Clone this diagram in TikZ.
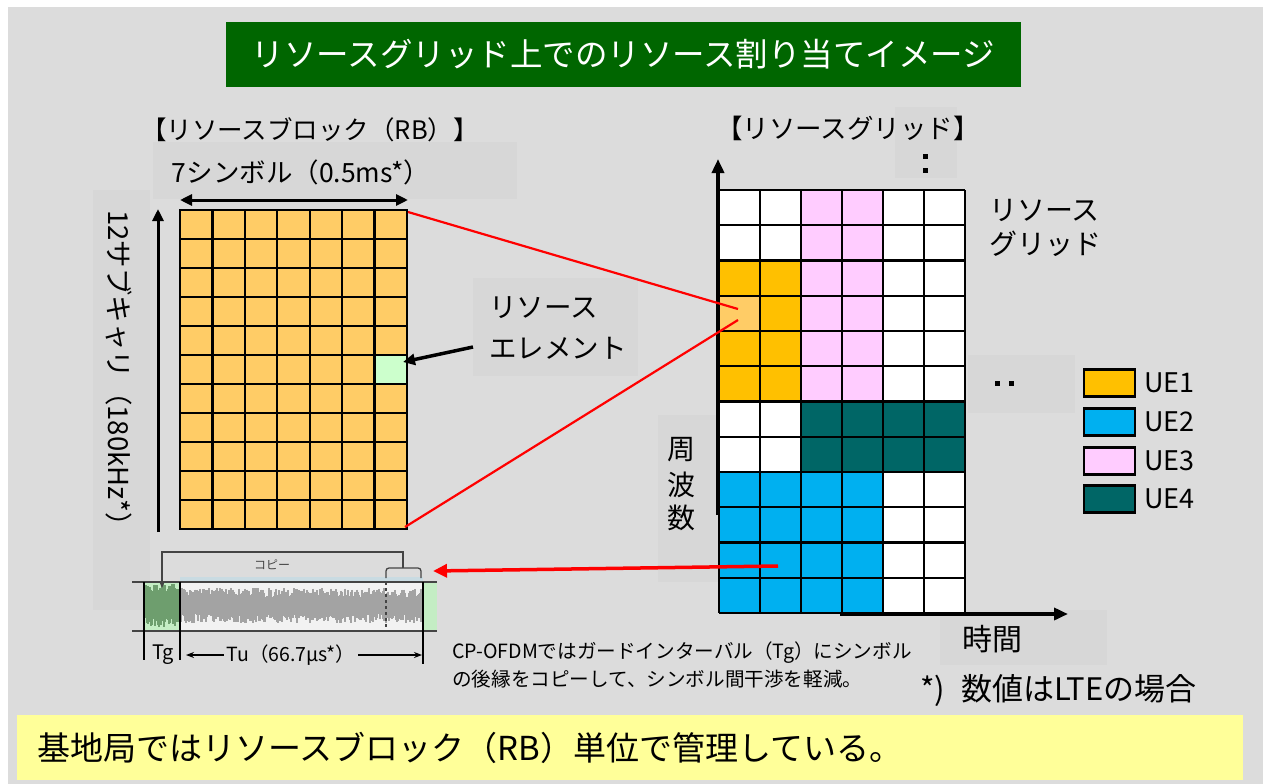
\documentclass[tikz,border=0pt]{standalone}
\usepackage{fontspec}
\setmainfont{Noto Sans CJK JP}
\usetikzlibrary{arrows.meta}
\definecolor{bg}{HTML}{DCDCDC}
\definecolor{faint}{HTML}{D7D7D7}
\definecolor{titlegreen}{HTML}{006600}
\definecolor{bandyellow}{HTML}{FFFF99}
\definecolor{rbcol}{HTML}{FFCC66}
\definecolor{recol}{HTML}{CCFFCC}
\definecolor{ueone}{HTML}{FFC000}
\definecolor{uetwo}{HTML}{00B0F0}
\definecolor{uethree}{HTML}{FFCCFF}
\definecolor{uefour}{HTML}{006666}
\definecolor{wavegray}{HTML}{A3A3A3}
\definecolor{wavegreen}{HTML}{6E9E6E}
\definecolor{tgfill}{HTML}{C4EDC4}
\definecolor{cpline}{HTML}{444444}
\newcommand{\fsz}[2]{\fontsize{#1}{#2}\selectfont}
\tikzset{
  txt/.style={inner sep=0pt, text=black},
  gl/.style={line width=2.2pt, black},
  redline/.style={red, line width=2.2pt},
  axisarrow/.style={line width=3.5pt, -{Triangle[length=14pt,width=12pt]}},
  dimarrow/.style={line width=3pt, {Triangle[length=12pt,width=11pt]}-{Triangle[length=12pt,width=11pt]}},
  legbox/.style={draw=black, line width=2.5pt, minimum width=51pt, minimum height=27pt, inner sep=0pt},
  copyline/.style={cpline, line width=1.3pt},
}
\begin{document}
\begin{tikzpicture}[x=1pt,y=-1pt]
\useasboundingbox (0,0) rectangle (1263,784);
\fill[white] (0,0) rectangle (1263,784);
\fill[bg] (8,7) rectangle (1263,784);
% faint text boxes
\fill[faint] (153,142) rectangle (517,199);
\fill[faint] (473,278) rectangle (638,376);
\fill[faint] (968,355) rectangle (1075,413);
\fill[faint] (658,415) rectangle (718,582);
\fill[faint] (940,610) rectangle (1107,665);
\fill[faint] (895,107) rectangle (957,178);
\fill[faint] (93,190) rectangle (150,610);

% title
\node[fill=titlegreen, text=white, minimum width=795pt, minimum height=65pt, inner sep=0pt, font=\fsz{32.5}{36}] (title) at (623.5,54.5) {リソースグリッド上でのリソース割り当てイメージ};

% bottom band
\fill[bandyellow] (17,715) rectangle (1243,780);
\node[txt, anchor=west, font=\fsz{33}{36}] (summary) at (37,748) {基地局ではリソースブロック（RB）単位で管理している。};

% RB headings
\node[txt, font=\fsz{25.5}{28}] (rbhead) at (310,130) {【リソースブロック（RB）】};
\node[txt, font=\fsz{26.5}{30}] (symlabel) at (301,172) {7シンボル（0.5ms*）};
\node[txt, rotate=-90, font=\fsz{27.5}{30}] (sclabel) at (119,375) {12サブキャリ（180kHz*）};

% RB grid
\fill[rbcol] (180,210) rectangle (407,529);
\fill[recol] ({180+6*227/7},355) rectangle (407,384);
\foreach \i in {1,...,6} \draw[gl] ({180+\i*227/7},210) -- ({180+\i*227/7},529);
\foreach \j in {1,...,10} \draw[gl] (180,{210+\j*29}) -- (407,{210+\j*29});
\draw[line width=2.6pt] (180,210) rectangle (407,529);
\coordinate (rbTR) at (408,212);
\coordinate (rbBR) at (405,527);

% RB dimension arrows
\coordinate (hL) at (180,200);
\coordinate (hR) at (408,200);
\draw[dimarrow] (hL) -- (hR);
\coordinate (vB) at (158,532);
\coordinate (vT) at (158,209);
\draw[line width=3pt, -{Triangle[length=12pt,width=11pt]}] (vB) -- (vT);

% resource element label
\node[txt, anchor=west, font=\fsz{27.5}{30}] (relab1) at (489,308) {リソース};
\node[txt, anchor=west, font=\fsz{27.5}{30}] (relab2) at (489,348) {エレメント};
\coordinate (reA) at (473,347);
\coordinate (reB) at (403,362);
\draw[line width=3.5pt, -{Triangle[length=12pt,width=11pt]}] (reA) -- (reB);

% resource grid
\node[txt, font=\fsz{26.5}{30}] (rghead) at (848,128) {【リソースグリッド】};
\fill[white] (719,190) rectangle (965,613);
\fill[uethree] (801,190) rectangle (883,401.5);
\fill[ueone] (719,260.5) rectangle (801,401.5);
\fill[rbcol] (719,295.75) rectangle (760,331);
\fill[uefour] (801,401.5) rectangle (965,472);
\fill[uetwo] (719,472) rectangle (883,613);
\foreach \i in {0,...,6} \draw[gl] ({719+\i*41},190) -- ({719+\i*41},613);
\foreach \j in {0,...,12} \draw[gl] (719,{190+\j*35.25}) -- (965,{190+\j*35.25});
\coordinate (yB) at (718,515);
\coordinate (yT) at (718,159);
\draw[axisarrow] (yB) -- (yT);
\coordinate (xL) at (840,614);
\coordinate (xR) at (1068,614);
\draw[axisarrow] (xL) -- (xR);

\node[txt, anchor=west, font=\fsz{28}{30}] (rglab1) at (989,210) {リソース};
\node[txt, anchor=west, font=\fsz{28}{30}] (rglab2) at (989,244) {グリッド};
\fill (922.5,153.5) rectangle +(5,5);
\fill (922.5,167.5) rectangle +(5,5);
\fill (994.5,380.5) rectangle +(5,5);
\fill (1008.5,380.5) rectangle +(5,5);

\node[txt, font=\fsz{28}{30}] (fq1) at (681,450) {周};
\node[txt, font=\fsz{28}{30}] (fq2) at (681,485) {波};
\node[txt, font=\fsz{28}{30}] (fq3) at (681,518) {数};
\node[txt, font=\fsz{30}{32}] (timelab) at (992,639) {時間};

% legend
\node[legbox, fill=ueone] (lg1) at (1109.5,383) {};
\node[legbox, fill=uetwo] (lg2) at (1109.5,422) {};
\node[legbox, fill=uethree] (lg3) at (1109.5,461) {};
\node[legbox, fill=uefour] (lg4) at (1109.5,499) {};
\node[txt, anchor=west, font=\fsz{27}{30}] (lt1) at (1144,383) {UE1};
\node[txt, anchor=west, font=\fsz{27}{30}] (lt2) at (1144,422) {UE2};
\node[txt, anchor=west, font=\fsz{27}{30}] (lt3) at (1144,461) {UE3};
\node[txt, anchor=west, font=\fsz{27}{30}] (lt4) at (1144,499) {UE4};

% red zoom lines
\coordinate (hl1) at (738,309);
\coordinate (hl2) at (738,320);
\draw[redline] (rbTR) -- (hl1);
\draw[redline] (rbBR) -- (hl2);

% waveform
\fill[white!95!black] (180,582) rectangle (423,631);
\fill[tgfill] (145,582) rectangle (180,631);
\fill[tgfill] (423,582) rectangle (437,631);
\fill[cyan!12!bg] (180,577) rectangle (423,582);
\pgfmathsetseed{12}
\foreach \x in {181,182,...,422} {\draw[wavegray, line width=1.1pt] (\x,{598-10*rnd}) -- (\x,{613+10*rnd});}
\foreach \x in {146,147,...,179} {\draw[wavegreen, line width=1.1pt] (\x,{592-8*rnd}) -- (\x,{618+9*rnd});}
\draw[cpline, line width=1.2pt] (132,582) -- (437,582);
\draw[cpline, line width=1.2pt] (132,631) -- (437,631);
\draw[cpline, line width=1.2pt, dashed] (386,582) -- (386,631);
\coordinate (tuR0) at (423,582);
\coordinate (tuR1) at (423,664);
\draw[black, line width=1.4pt] (tuR0) -- (tuR1);
\coordinate (tg0a) at (144,582);
\coordinate (tg0b) at (144,660);
\coordinate (tg1a) at (180,582);
\coordinate (tg1b) at (180,660);
\draw[black, line width=2.4pt] (tg0a) -- (tg0b);
\draw[black, line width=2.4pt] (tg1a) -- (tg1b);
% copy bracket
\draw[copyline, rounded corners=3pt] (386,578) -- (386,568) -- (421,568) -- (421,578);
\coordinate (cpS) at (403,568);
\coordinate (cpE) at (162,588);
\draw[copyline, -{Stealth[length=6pt,width=5pt]}] (cpS) -- (403,552) -| (cpE);
\node[txt, text=cpline, font=\fsz{12}{14}] (copytxt) at (272,565) {コピー};
% Tu arrow
\coordinate (tuA) at (186,655);
\coordinate (tuB) at (422,655);
\draw[black, line width=1.2pt, {Stealth[length=8pt,width=6pt]}-{Stealth[length=8pt,width=6pt]}] (tuA) -- (tuB);
\node[fill=bg, inner sep=3pt, font=\fsz{19.5}{22}] (tutxt) at (291,655) {Tu（66.7μs*）};
\node[txt, font=\fsz{20}{22}] (tgtxt) at (163,655) {Tg};

% red arrow to waveform
\coordinate (raS) at (778,566);
\coordinate (raE) at (433,571);
\draw[red, line width=3.5pt, -{Triangle[length=14pt,width=13pt]}] (raS) -- (raE);

% notes
\node[txt, anchor=west, font=\fsz{19.6}{22}] (cp1) at (452,653) {CP-OFDMではガードインターバル（Tg）にシンボル};
\node[txt, anchor=west, font=\fsz{19.6}{22}] (cp2) at (452,679) {の後縁をコピーして、シンボル間干渉を軽減。};
\node[txt, anchor=west, font=\fsz{31}{34}] (note) at (920,690) {*)\hspace{16pt}数値はLTEの場合};
\end{tikzpicture}
\end{document}
